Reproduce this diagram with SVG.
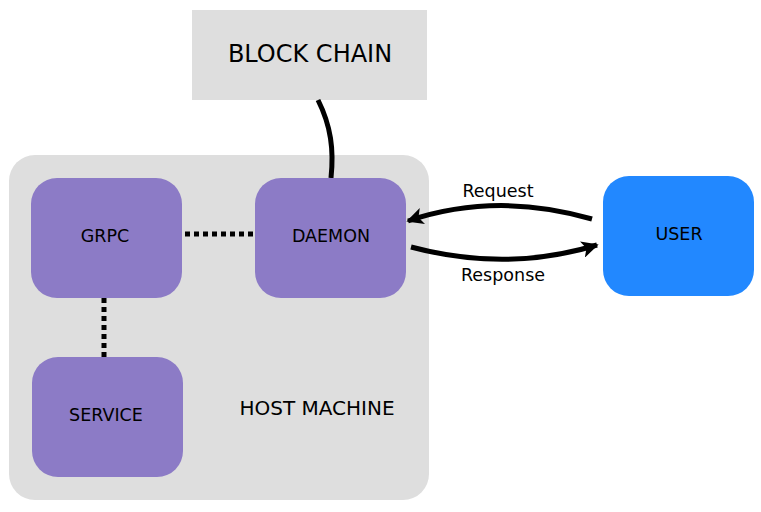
<svg xmlns="http://www.w3.org/2000/svg" width="761" height="512" viewBox="0 0 761 512">
<style>
text{font-family:"DejaVu Sans",sans-serif;fill:#000;text-anchor:middle;dominant-baseline:central}
.inner{fill:#8c7bc6}
.n{font-size:17.5px}
.c{fill:none;stroke:#000;stroke-width:5}
.dot{fill:none;stroke:#000;stroke-width:5;stroke-dasharray:5 4}
</style>
<defs>
<marker id="ah" viewBox="0 0 10 10" refX="9" refY="5" markerWidth="3.4" markerHeight="3.4" orient="auto" markerUnits="strokeWidth">
<path d="M0,0 L10,5 L0,10 L2.5,5 z" fill="#000"/>
</marker>
</defs>
<rect width="761" height="512" fill="#fff"/>
<g id="blockchain">
<rect x="192" y="10" width="235" height="90" fill="#dedede"/>
<text x="310" y="54" font-size="24">BLOCK CHAIN</text>
</g>
<g id="host">
<rect x="9" y="155" width="420" height="345" rx="26" fill="#dedede"/>
<text x="317" y="408" font-size="20">HOST MACHINE</text>
</g>
<g id="connectors">
<path class="c" d="M318,100 C331,126 334,150 331,178"/>
<path class="dot" d="M185,234 L253,234"/>
<path class="dot" d="M104,298 L104,357"/>
<path class="c" d="M592,219 C530,201 470,200 408,221" marker-end="url(#ah)"/>
<path class="c" d="M411,247 C475,264 535,264 597,245" marker-end="url(#ah)"/>
</g>
<g id="grpc">
<rect class="inner" x="31" y="178" width="151" height="120" rx="26"/>
<text class="n" x="105" y="236">GRPC</text>
</g>
<g id="daemon">
<rect class="inner" x="255" y="178" width="151" height="120" rx="26"/>
<text class="n" x="331" y="236">DAEMON</text>
</g>
<g id="service">
<rect class="inner" x="32" y="357" width="151" height="120" rx="26"/>
<text class="n" x="106" y="415">SERVICE</text>
</g>
<g id="user">
<rect x="603" y="176" width="151" height="120" rx="26" fill="#2288ff"/>
<text class="n" x="679" y="234">USER</text>
</g>
<text class="n" x="498" y="191">Request</text>
<text class="n" x="503" y="275">Response</text>
</svg>
